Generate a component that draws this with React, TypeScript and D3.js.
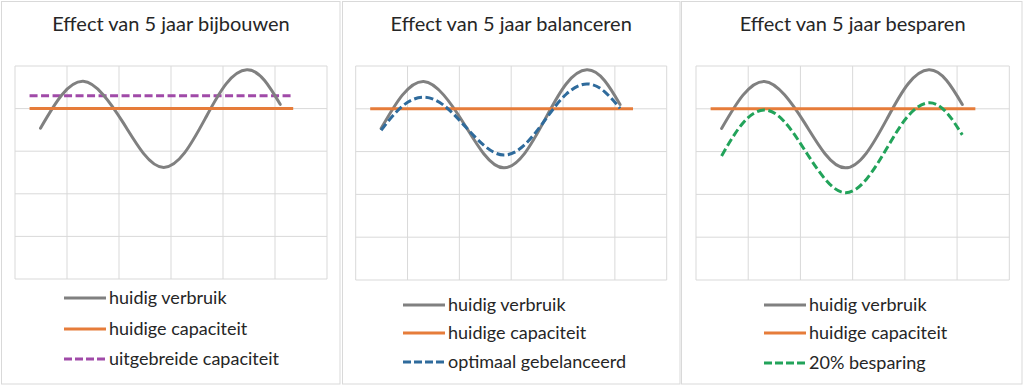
import React from "react";
import * as d3 from "d3";

// sample positions along the horizontal axis (grid units, 6 columns)
const xSamples = [0.49, 0.9, 1.31, 1.7, 2.08, 2.47, 2.86, 3.26, 3.66, 4.06, 4.46, 4.8, 5.1];

// huidig verbruik (same in all three panels)
const verbruik = [3.54, 4.32, 4.64, 4.32, 3.67, 2.95, 2.62, 2.96, 3.77, 4.58, 4.91, 4.66, 4.1];
// optimaal gebalanceerd
const gebalanceerd = [3.5, 4.06, 4.27, 4.08, 3.63, 3.15, 2.92, 3.16, 3.75, 4.34, 4.58, 4.4, 4.01];
// 20% besparing
const besparing = [2.9, 3.67, 3.97, 3.69, 3.04, 2.36, 2.04, 2.35, 3.09, 3.83, 4.14, 3.91, 3.39];

const capaciteit = 4;
const uitgebreid = 4.3;
const capX = [0.28, 5.35];

const titles = [
  "Effect van 5 jaar bijbouwen",
  "Effect van 5 jaar balanceren",
  "Effect van 5 jaar besparen",
];
const legendLabels = [
  ["huidig verbruik", "huidige capaciteit", "uitgebreide capaciteit"],
  ["huidig verbruik", "huidige capaciteit", "optimaal gebelanceerd"],
  ["huidig verbruik", "huidige capaciteit", "20% besparing"],
];

const GRAY = "#808080";
const ORANGE = "#e67c3a";
const PURPLE = "#a04aa8";
const BLUE = "#2f6b9c";
const GREEN = "#22a35a";
const FONT = "Lato, 'Open Sans', sans-serif";

// panel frames: border box, plot box, legend placement
const panels = [
  { bx: 1.5, bw: 338.5, left: 15, right: 327, top: 66, bottom: 279, legX: 64, legY: [298, 329, 359] },
  { bx: 342.5, bw: 337.5, left: 355.7, right: 666.7, top: 66, bottom: 280, legX: 403, legY: [305, 333, 362] },
  { bx: 681.5, bw: 340.5, left: 696, right: 1009.3, top: 66, bottom: 280, legX: 764, legY: [305, 333, 363] },
];

function Panel({ idx }: { idx: number }) {
  const p = panels[idx];
  const x = d3.scaleLinear().domain([0, 6]).range([p.left, p.right]);
  const y = d3.scaleLinear().domain([0, 5]).range([p.bottom, p.top]);
  const line = d3
    .line<number>()
    .x((_, i) => x(xSamples[i]))
    .y((d) => y(d))
    .curve(d3.curveNatural);

  const third =
    idx === 0
      ? { color: PURPLE, el: <line x1={x(capX[0])} x2={x(capX[1])} y1={y(uitgebreid)} y2={y(uitgebreid)} stroke={PURPLE} strokeWidth={3} strokeDasharray="8,3.5" /> }
      : idx === 1
      ? { color: BLUE, el: <path d={line(gebalanceerd) || ""} fill="none" stroke={BLUE} strokeWidth={3} strokeDasharray="8,3.5" /> }
      : { color: GREEN, el: <path d={line(besparing) || ""} fill="none" stroke={GREEN} strokeWidth={3} strokeDasharray="8,3.5" /> };

  const legendStyles = [
    { color: GRAY, dash: undefined },
    { color: ORANGE, dash: undefined },
    { color: third.color, dash: "8,3" },
  ];

  return (
    <g>
      <rect x={p.bx} y={1.5} width={p.bw} height={382.5} fill="#fff" stroke="#d9d9d9" strokeWidth={1} />
      <text x={(p.left + p.right) / 2} y={31} textAnchor="middle" fontFamily={FONT} fontSize={20} fill="#262626">
        {titles[idx]}
      </text>
      {x.ticks(6).map((t) => (
        <line key={"vx" + t} x1={x(t)} x2={x(t)} y1={p.top} y2={p.bottom} stroke="#d9d9d9" strokeWidth={1} />
      ))}
      {y.ticks(5).map((t) => (
        <line key={"hy" + t} x1={p.left} x2={p.right} y1={y(t)} y2={y(t)} stroke="#d9d9d9" strokeWidth={1} />
      ))}
      {idx === 0 && third.el}
      <path d={line(verbruik) || ""} fill="none" stroke={GRAY} strokeWidth={3} strokeLinecap="round" />
      <line x1={x(capX[0])} x2={x(capX[1])} y1={y(capaciteit)} y2={y(capaciteit)} stroke={ORANGE} strokeWidth={3} />
      {idx !== 0 && third.el}
      {legendLabels[idx].map((lab, i) => (
        <g key={lab}>
          <line
            x1={p.legX}
            x2={p.legX + 42}
            y1={p.legY[i]}
            y2={p.legY[i]}
            stroke={legendStyles[i].color}
            strokeWidth={3}
            strokeDasharray={legendStyles[i].dash}
          />
          <text x={p.legX + 45} y={p.legY[i] + 6} fontFamily={FONT} fontSize={18} fill="#262626">
            {lab}
          </text>
        </g>
      ))}
    </g>
  );
}

export default function App() {
  return (
    <svg width={1024} height={387} style={{ position: "absolute", left: 0, top: 0, display: "block" }}>
      <rect width={1024} height={387} fill="#fff" />
      {[0, 1, 2].map((i) => (
        <Panel key={i} idx={i} />
      ))}
    </svg>
  );
}
